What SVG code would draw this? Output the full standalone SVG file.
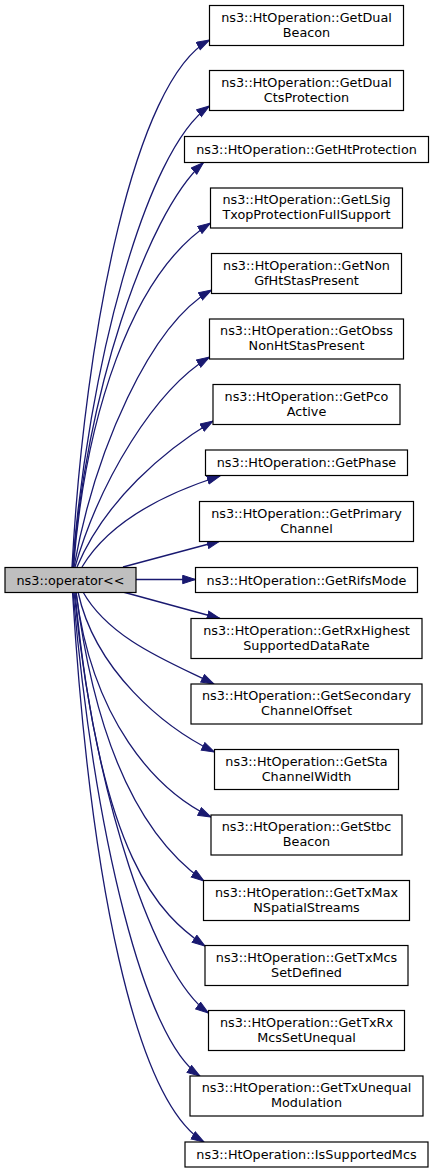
<svg xmlns="http://www.w3.org/2000/svg" width="435" height="1173" viewBox="0 0 435 1173">
<style>
.n rect{fill:#ffffff;stroke:#000000;stroke-width:1.2}
.root rect{fill:#bfbfbf}
text{font-family:"DejaVu Sans",Verdana,sans-serif;font-size:12.8px;fill:#000000;text-anchor:middle}
.e path{fill:none;stroke:#191970;stroke-width:1.3;marker-end:url(#ah)}
</style>
<defs>
<marker id="ah" markerUnits="userSpaceOnUse" markerWidth="15" markerHeight="11" refX="13.3" refY="4.7" orient="auto">
<path d="M0.5,0.5 L13.3,4.7 L0.5,8.9 Z" fill="#191970" stroke="#191970" stroke-width="1"/>
</marker>
</defs>
<rect width="435" height="1173" fill="#ffffff"/>
<g id="edges" class="e">
<path d="M72,567 C85,330 135,80 209.5,40"/>
<path d="M72.5,567 C88,370 145,150 209.5,106"/>
<path d="M73,567 C85,400 145,215 203.5,162.5"/>
<path d="M73.5,567 C85,420 130,275 210.5,223"/>
<path d="M74,567 C95,450 150,325 211.5,290"/>
<path d="M75,567 C100,480 155,390 209.5,357"/>
<path d="M77,567 C105,500 165,450 213,421"/>
<path d="M82,567 C110,520 170,492 220,476"/>
<path d="M123,567 L220,541"/>
<path d="M136,579.5 L195.5,579.5"/>
<path d="M123,592 L220,618.5"/>
<path d="M83,592 C110,640 172,663 214,684"/>
<path d="M78,592 C95,670 163,727 214.5,752"/>
<path d="M76,592 C92,720 155,790 211,817"/>
<path d="M76,592 C100,780 160,850 204,881"/>
<path d="M75,592 C100,860 160,915 205,946"/>
<path d="M74,592 C95,800 155,975 208.5,1013"/>
<path d="M73,592 C95,840 145,1040 200,1076"/>
<path d="M72.5,592 C90,880 135,1100 204,1142"/>
</g>
<g id="root" class="n root"><rect x="5" y="567.5" width="131" height="25"/><text x="70.5" y="584.5">ns3::operator&lt;&lt;</text></g>
<g id="n1" class="n"><rect x="209.5" y="5.5" width="194" height="40"/><text x="306.5" y="21.5">ns3::HtOperation::GetDual</text><text x="306.5" y="36.5">Beacon</text></g>
<g id="n2" class="n"><rect x="209.5" y="70.5" width="194" height="40"/><text x="306.5" y="86.5">ns3::HtOperation::GetDual</text><text x="306.5" y="101.5">CtsProtection</text></g>
<g id="n3" class="n"><rect x="184.5" y="136.5" width="244" height="26"/><text x="306.5" y="153.5">ns3::HtOperation::GetHtProtection</text></g>
<g id="n4" class="n"><rect x="210.5" y="188" width="192" height="40"/><text x="306.5" y="204">ns3::HtOperation::GetLSig</text><text x="306.5" y="219">TxopProtectionFullSupport</text></g>
<g id="n5" class="n"><rect x="211.5" y="253.5" width="190" height="40"/><text x="306.5" y="269.5">ns3::HtOperation::GetNon</text><text x="306.5" y="284.5">GfHtStasPresent</text></g>
<g id="n6" class="n"><rect x="209.5" y="319" width="194" height="40"/><text x="306.5" y="335">ns3::HtOperation::GetObss</text><text x="306.5" y="350">NonHtStasPresent</text></g>
<g id="n7" class="n"><rect x="213" y="384.5" width="187" height="40"/><text x="306.5" y="400.5">ns3::HtOperation::GetPco</text><text x="306.5" y="415.5">Active</text></g>
<g id="n8" class="n"><rect x="205.5" y="450" width="202" height="25.5"/><text x="306.5" y="467">ns3::HtOperation::GetPhase</text></g>
<g id="n9" class="n"><rect x="199.5" y="501.5" width="214" height="40"/><text x="306.5" y="517.5">ns3::HtOperation::GetPrimary</text><text x="306.5" y="532.5">Channel</text></g>
<g id="n10" class="n"><rect x="195.5" y="567.5" width="222" height="25"/><text x="306.5" y="584.5">ns3::HtOperation::GetRifsMode</text></g>
<g id="n11" class="n"><rect x="191" y="618.5" width="231" height="40"/><text x="306.5" y="634.5">ns3::HtOperation::GetRxHighest</text><text x="306.5" y="649.5">SupportedDataRate</text></g>
<g id="n12" class="n"><rect x="191" y="684" width="231" height="40"/><text x="306.5" y="700">ns3::HtOperation::GetSecondary</text><text x="306.5" y="715">ChannelOffset</text></g>
<g id="n13" class="n"><rect x="214.5" y="749.5" width="184" height="40"/><text x="306.5" y="765.5">ns3::HtOperation::GetSta</text><text x="306.5" y="780.5">ChannelWidth</text></g>
<g id="n14" class="n"><rect x="211" y="815" width="191" height="40"/><text x="306.5" y="831">ns3::HtOperation::GetStbc</text><text x="306.5" y="846">Beacon</text></g>
<g id="n15" class="n"><rect x="203.5" y="880.5" width="206" height="40"/><text x="306.5" y="896.5">ns3::HtOperation::GetTxMax</text><text x="306.5" y="911.5">NSpatialStreams</text></g>
<g id="n16" class="n"><rect x="205" y="945.5" width="203" height="40"/><text x="306.5" y="961.5">ns3::HtOperation::GetTxMcs</text><text x="306.5" y="976.5">SetDefined</text></g>
<g id="n17" class="n"><rect x="208.5" y="1010.5" width="196" height="40"/><text x="306.5" y="1026.5">ns3::HtOperation::GetTxRx</text><text x="306.5" y="1041.5">McsSetUnequal</text></g>
<g id="n18" class="n"><rect x="190" y="1076" width="233" height="40"/><text x="306.5" y="1092">ns3::HtOperation::GetTxUnequal</text><text x="306.5" y="1107">Modulation</text></g>
<g id="n19" class="n"><rect x="185" y="1142" width="243" height="25"/><text x="306.5" y="1159">ns3::HtOperation::IsSupportedMcs</text></g>
</svg>
